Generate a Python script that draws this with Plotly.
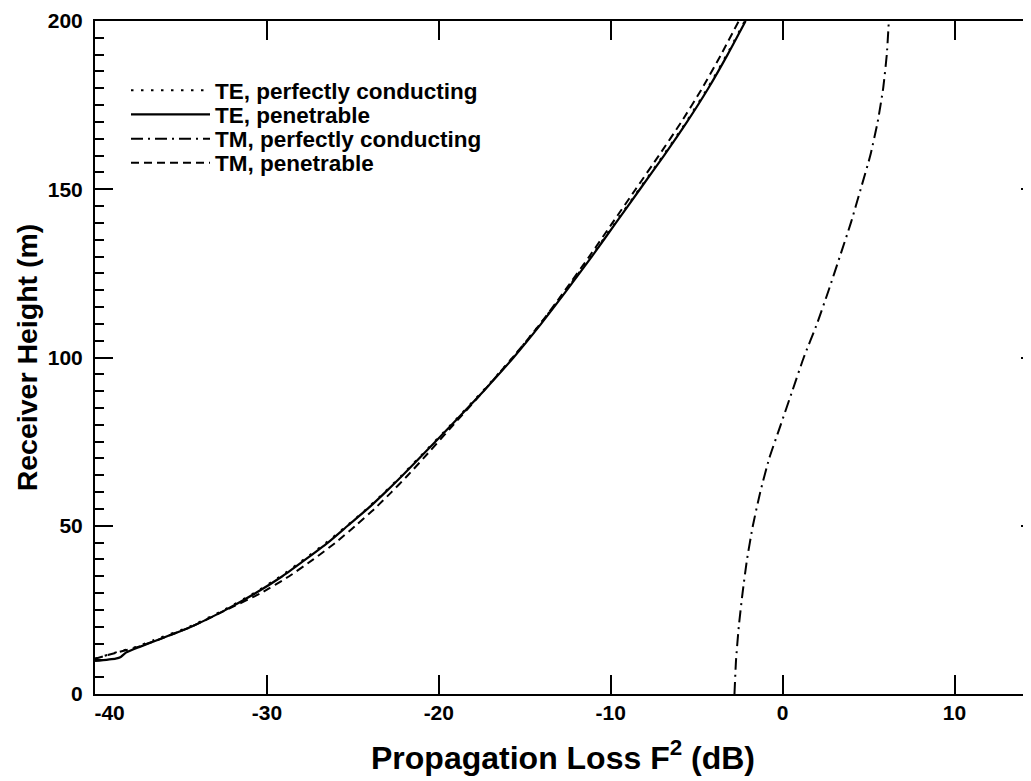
import plotly.graph_objects as go

# ---- data ----
te_pc_height = [10.5, 12.5, 14, 16, 20, 25, 30, 35, 40, 45, 50, 55, 60, 65, 70, 80, 90, 100, 110, 120, 130, 140, 150, 160, 170, 180, 190, 200]
te_pc_loss = [-40.0, -38.7, -37.6, -36.6, -34.5, -32.5, -30.75, -29.2, -27.85, -26.55, -25.35, -24.2, -23.15, -22.15, -21.2, -19.3, -17.45, -15.7, -14.1, -12.6, -11.15, -9.75, -8.35, -6.95, -5.61, -4.37, -3.25, -2.2]

te_pen_height = [9.8, 10.5, 11.0, 12.3, 14, 16, 20, 25, 30, 35, 40, 45, 50, 55, 60, 65, 70, 80, 90, 100, 110, 120, 130, 140, 150, 160, 170, 180, 190, 200]
te_pen_loss = [-40.0, -38.8, -38.5, -38.2, -37.4, -36.4, -34.4, -32.4, -30.65, -29.1, -27.75, -26.45, -25.3, -24.15, -23.1, -22.1, -21.15, -19.25, -17.4, -15.65, -14.05, -12.55, -11.1, -9.7, -8.3, -6.9, -5.56, -4.32, -3.2, -2.15]

tm_pc_height = [0, 10, 20, 30, 40, 50, 60, 70, 80, 90, 100, 110, 120, 130, 140, 150, 160, 170, 180, 190, 200]
tm_pc_loss = [-2.8, -2.71, -2.55, -2.33, -2.07, -1.73, -1.30, -0.78, -0.11, 0.56, 1.23, 2.0, 2.68, 3.33, 3.97, 4.54, 5.1, 5.53, 5.85, 6.06, 6.18]

tm_pen_height = [10.5, 12.5, 14, 16, 20, 25, 30, 35, 40, 45, 50, 55, 60, 65, 70, 80, 90, 100, 110, 120, 130, 140, 150, 160, 170, 180, 190, 200]
tm_pen_loss = [-40.0, -38.6, -37.5, -36.4, -34.4, -32.35, -30.35, -28.7, -27.3, -26.0, -24.85, -23.75, -22.75, -21.8, -20.9, -19.15, -17.4, -15.7, -14.1, -12.65, -11.25, -9.9, -8.55, -7.2, -5.89, -4.68, -3.58, -2.55]

series_names = ["TE, perfectly conducting", "TE, penetrable", "TM, perfectly conducting", "TM, penetrable"]

x_ticks = [-40, -30, -20, -10, 0, 10]
x_tick_labels = ["\u00a0\u00a0\u00a0\u00a0\u00a0-40", "-30", "-20", "-10", "0", "10"]

FONT = "Liberation Sans, Arial, Helvetica, sans-serif"

# page body adds an 8px offset; figure is sized/positioned to compensate
W, H = 1023, 773
ML, MR, MT, MB = 87, 0, 13, 87
plot_h = H - MT - MB
plot_w = W - ML - MR

fig = go.Figure()
styles = [
    dict(dash="2.5px,7.5px", width=2),
    dict(dash="solid", width=2.2),
    dict(dash="12px,5px,2px,5px", width=2),
    dict(dash="8px,5px", width=2),
]
data = [
    (te_pc_loss, te_pc_height),
    (te_pen_loss, te_pen_height),
    (tm_pc_loss, tm_pc_height),
    (tm_pen_loss, tm_pen_height),
]
legend_ids = ["legend", "legend2", "legend3", "legend4"]
for name, (xs, ys), st, lg in zip(series_names, data, styles, legend_ids):
    fig.add_trace(go.Scatter(
        x=xs, y=ys, mode="lines", name=name, legend=lg,
        line=dict(color="black", width=st["width"], dash=st["dash"], shape="spline", smoothing=0.5),
    ))

# invisible trace to activate right-hand tick axis
fig.add_trace(go.Scatter(x=[None], y=[None], yaxis="y2", showlegend=False, hoverinfo="skip"))

# legend rows (viewport px centres), converted to paper coords
row_centers_px = [90.7, 114.7, 139.0, 163.0]
legend_left_px = 126
legend_layout = {}
for lg, cy in zip(legend_ids, row_centers_px):
    fy = cy - 8
    legend_layout[lg] = dict(
        x=(legend_left_px - 8 - ML) / plot_w, y=1 - (fy - MT) / plot_h,
        xanchor="left", yanchor="middle",
        font=dict(family=FONT, size=22.5, weight="bold", color="black"),
        bgcolor="rgba(0,0,0,0)", itemwidth=79, borderwidth=0,
    )

fig.update_layout(
    width=W, height=H,
    margin=dict(l=ML, r=MR, t=MT, b=MB, autoexpand=False),
    plot_bgcolor="white", paper_bgcolor="white",
    font=dict(family=FONT, color="black"),
    showlegend=True,
    **legend_layout,
    xaxis=dict(
        range=[-40, 14.45], tickmode="array", tickvals=x_ticks, ticktext=x_tick_labels,
        ticks="inside", ticklen=19, tickwidth=2, tickcolor="black",
        showline=True, linewidth=2, linecolor="black", mirror="ticks",
        showgrid=False, zeroline=False,
        tickfont=dict(family=FONT, size=21, weight="bold"),
        ticklabelstandoff=-1,
        title=dict(text="Propagation Loss F<sup>2</sup> (dB)", standoff=23,
                   font=dict(family=FONT, size=32, weight="bold")),
    ),
    yaxis=dict(
        range=[0, 200], tickmode="linear", tick0=0, dtick=50,
        ticks="inside", ticklen=18, tickwidth=2, tickcolor="black",
        minor=dict(dtick=5, tick0=0, ticks="inside", ticklen=9, tickwidth=2, tickcolor="black"),
        showline=True, linewidth=2, linecolor="black", mirror=True,
        showgrid=False, zeroline=False,
        tickfont=dict(family=FONT, size=21, weight="bold"),
        ticklabelstandoff=6,
        title=dict(text="Receiver Height (m)", standoff=2,
                   font=dict(family=FONT, size=28.5, weight="bold")),
    ),
    yaxis2=dict(
        overlaying="y", side="right", range=[0, 200], tickmode="linear", tick0=50, dtick=50,
        ticks="inside", ticklen=10, tickwidth=2, tickcolor="black",
        showticklabels=False, showline=False, showgrid=False, zeroline=False,
    ),
)

fig.write_html("out.html")
